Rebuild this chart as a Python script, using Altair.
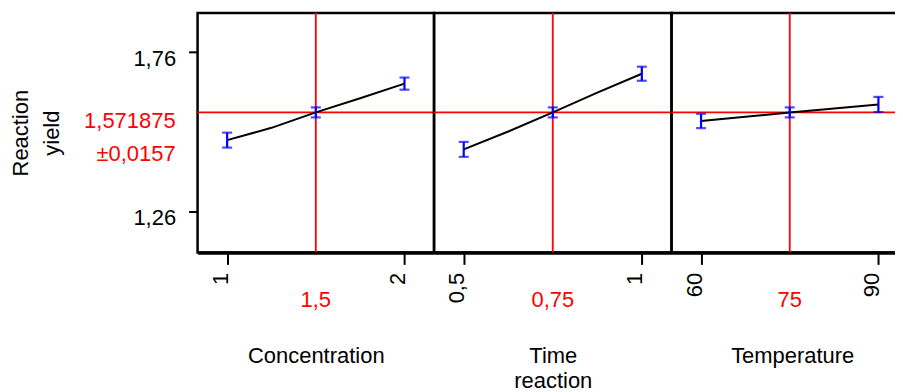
import altair as alt
import pandas as pd

FONT = "Liberation Sans"

factor_titles = ["Concentration", ["Time", "reaction"], "Temperature"]
curve_x = [[1, 1.25, 1.5, 1.75, 2], [0.5, 0.625, 0.75, 0.875, 1], [60, 67.5, 75, 82.5, 90]]
curve_y = [[1.485, 1.5235, 1.571875, 1.616, 1.662],
           [1.456, 1.512, 1.571875, 1.634, 1.693],
           [1.545, 1.558, 1.571875, 1.584, 1.5966]]
bar_x = [[1, 1.5, 2], [0.5, 0.75, 1], [60, 75, 90]]
bar_y = [[1.485, 1.571875, 1.662], [1.456, 1.571875, 1.693], [1.545, 1.571875, 1.5966]]
bar_half = [[0.0234, 0.0157, 0.019], [0.0234, 0.0157, 0.022], [0.0225, 0.0157, 0.0238]]
current_x = [1.5, 0.75, 75]
current_label = ["1,5", "0,75", "75"]
x_ticks = [[1, 2], [0.5, 1], [60, 90]]
x_domains = [[0.8333, 2.1667], [0.41667, 1.08333], [55, 95]]
panel_widths = [237, 238, 237]
y_ticks = [1.26, 1.76]
y_domain = [1.1334, 1.8834]
predicted = 1.571875
predicted_text = ["1,571875", "±0,0157"]
y_title = ["Reaction", "yield"]

PLOT_H = 240
RED = "#ff0000"
BLUE = "#0000ff"

panels = []
for i in range(3):
    line_df = pd.DataFrame({"x": curve_x[i], "y": curve_y[i]})
    bar_df = pd.DataFrame({"x": bar_x[i], "y": bar_y[i], "h": bar_half[i]})
    cur_df = pd.DataFrame({"x": [current_x[i]], "label": [current_label[i]]})

    xscale = alt.Scale(domain=x_domains[i], nice=False, zero=False)
    yscale = alt.Scale(domain=y_domain, nice=False, zero=False)
    xa = dict(values=x_ticks[i], labelExpr="replace(toString(datum.value), '.', ',')",
              title=factor_titles[i], labelAngle=270, labelAlign="right",
              labelBaseline="alphabetic", tickSize=12, tickWidth=2, labelPadding=8,
              domainWidth=3.5, titleY=110, titleBaseline="alphabetic",
              titleLineHeight=25, grid=False)
    if i == 2:
        xa["titleX"] = 121
    xaxis = alt.Axis(**xa)
    if i == 0:
        yaxis = alt.Axis(values=y_ticks, labelExpr="replace(format(datum.value, '.2f'), '.', ',')",
                         domain=False, tickSize=9, tickWidth=2, labelPadding=13,
                         labelBaseline="alphabetic", labelOffset=13, title=y_title,
                         titleAngle=270, titleX=-170, titleY=PLOT_H / 2, titleAlign="center",
                         titleBaseline="alphabetic", titleLineHeight=31, grid=False)
    else:
        yaxis = None

    hrule = alt.Chart(cur_df).mark_rule(color=RED, strokeWidth=1.8).encode(
        y=alt.YDatum(predicted, scale=yscale, axis=yaxis))
    vrule = alt.Chart(cur_df).mark_rule(color=RED, strokeWidth=1.8).encode(
        x=alt.X("x:Q", scale=xscale, axis=xaxis))
    line = alt.Chart(line_df).mark_line(color="black", strokeWidth=2).encode(
        x=alt.X("x:Q", scale=xscale, axis=xaxis),
        y=alt.Y("y:Q", scale=yscale, axis=yaxis))
    bars = alt.Chart(bar_df).transform_calculate(
        lo="datum.y - datum.h", hi="datum.y + datum.h"
    ).mark_errorbar(ticks={"thickness": 2.2}, rule={"strokeWidth": 2.2},
                    color=BLUE, size=10).encode(
        x=alt.X("x:Q", scale=xscale, axis=xaxis),
        y=alt.Y("lo:Q", scale=yscale, axis=yaxis),
        y2="hi:Q")
    lab = alt.Chart(cur_df).mark_text(color=RED, fontSize=22, font=FONT,
                                      baseline="alphabetic").encode(
        x=alt.X("x:Q", scale=xscale, axis=xaxis), y=alt.value(295), text="label:N")
    layers = [hrule, vrule, line, bars, lab]
    if i == 0:
        pdf = pd.DataFrame({"t": predicted_text})
        for k, dy in enumerate([15.6, 49]):
            layers.append(
                alt.Chart(pdf.iloc[[k]]).mark_text(color=RED, fontSize=22, font=FONT,
                                                    align="right", baseline="alphabetic",
                                                    dy=dy).encode(
                    x=alt.value(-22), y=alt.YDatum(predicted, scale=yscale, axis=yaxis),
                    text="t:N"))
    panels.append(alt.layer(*layers).properties(width=panel_widths[i], height=PLOT_H))

chart = alt.hconcat(*panels, spacing=0, bounds="flush").resolve_scale(
    x="independent", y="independent"
).properties(
    padding={"left": 0, "top": 1.5, "right": -16, "bottom": 0},
    background="white"
).configure_view(
    stroke="black", strokeWidth=2.5
).configure_axis(
    labelFont=FONT, titleFont=FONT, labelFontSize=22, titleFontSize=22,
    labelColor="black", titleColor="black", tickColor="black", domainColor="black",
    titleFontWeight="normal"
)

chart.save("out.html", embed_options={"renderer": "svg", "actions": False})
